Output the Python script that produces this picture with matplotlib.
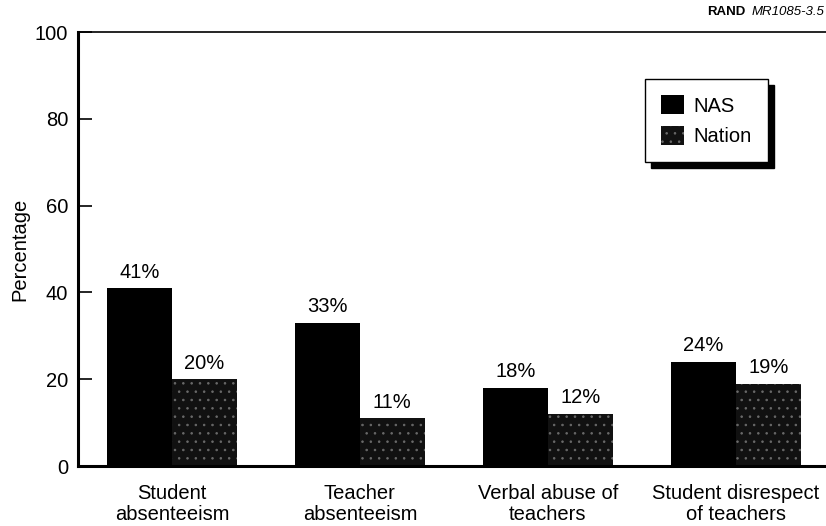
"""
    school climate problems: NAS vs nation
"""

import matplotlib.pyplot as plt
import numpy as np

categories = ["Student\nabsenteeism", "Teacher\nabsenteeism",
              "Verbal abuse of\nteachers", "Student disrespect\nof teachers"]
nas = [41, 33, 18, 24]
nation = [20, 11, 12, 19]
yticks = [0, 20, 40, 60, 80, 100]


def main():
    plt.rcParams["font.family"] = ["Liberation Sans", "DejaVu Sans"]
    plt.rcParams["hatch.linewidth"] = 0.6

    fig = plt.figure(figsize=(8.26, 5.26), dpi=100)
    ax = fig.add_axes([0.0944, 0.114, 0.9056, 0.825])

    x = np.arange(len(categories))
    w = 0.345
    b1 = ax.bar(x - w / 2, nas, w, color="black", label="NAS")
    b2 = ax.bar(x + w / 2, nation, w, facecolor="#111111", edgecolor="#6a6a6a",
                hatch="..", linewidth=0, label="Nation")

    for rect, v in zip(list(b1) + list(b2), nas + nation):
        ax.text(rect.get_x() + rect.get_width() / 2, v + 1.5, f"{v}%",
                ha="center", va="bottom", fontsize=14.5)

    ax.set_xlim(-0.5, 3.48)
    ax.set_ylim(0, 100)
    ax.set_yticks(yticks)
    ax.set_xticks(x)
    ax.set_xticklabels(categories, fontsize=14.5, linespacing=1.1)
    ax.tick_params(axis="x", length=0, pad=13)
    ax.tick_params(axis="y", direction="in", length=10, width=1.2,
                   labelsize=14.5, pad=7)
    ax.set_ylabel("Percentage", fontsize=14.5, labelpad=4)

    for s in ["left", "bottom"]:
        ax.spines[s].set_linewidth(2.2)
    ax.spines["top"].set_linewidth(1.2)
    ax.spines["right"].set_visible(False)

    leg = ax.legend(loc="upper left", bbox_to_anchor=(0.745, 0.915),
                    fontsize=14.5, frameon=True, fancybox=False,
                    shadow={"color": "black", "alpha": 1.0, "ox": 4, "oy": -4},
                    edgecolor="black", borderpad=0.8, handlelength=1.1,
                    handleheight=1.1, labelspacing=0.5, handletextpad=0.5)
    leg.get_frame().set_linewidth(1.0)

    fig.text(0.902, 0.977, "RAND", fontsize=9.5, fontweight="bold",
             ha="right", va="center")
    fig.text(0.998, 0.977, "MR1085-3.5", fontsize=9.5, style="italic",
             ha="right", va="center")

    fig.savefig("out.png", dpi=100)


if __name__ == "__main__":
    main()
